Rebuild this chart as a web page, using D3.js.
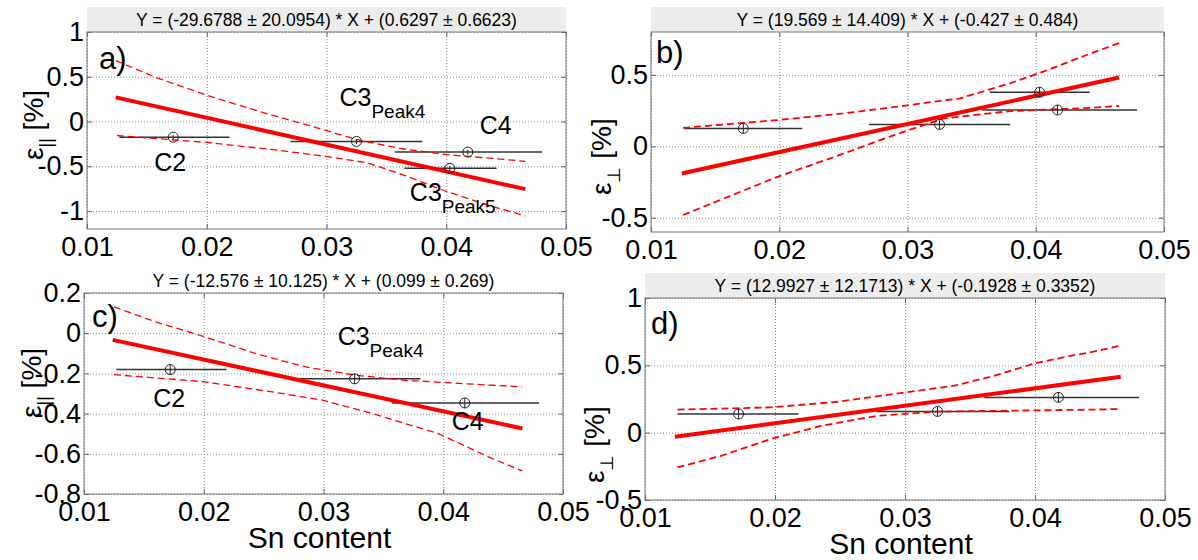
<!DOCTYPE html>
<html>
<head>
<meta charset="utf-8">
<script src="https://cdn.jsdelivr.net/npm/d3@7"></script>
<style>
  body { margin: 0; background: #fff; }
  text { font-family: "Liberation Sans", Arial, Helvetica, sans-serif; }
</style>
</head>
<body>
<div id="chart"></div>
<script>
// x axis (Sn content) ticks, shared by all panels
const xTicks = [0.01, 0.02, 0.03, 0.04, 0.05];

// panel a) eps_par vs Sn
const aNames = ["C2", "C3|Peak4", "C4", "C3|Peak5"];
const aSn = [0.0172, 0.0325, 0.0418, 0.0403];
const aSnLo = [0.0127, 0.0270, 0.0357, 0.0365];
const aSnHi = [0.0219, 0.0380, 0.0480, 0.0442];
const aEps = [-0.175, -0.222, -0.341, -0.522];
const aFitX = [0.0124, 0.0466];
const aFitY = [0.270, -0.755];
const aUpX = [0.0124, 0.0159, 0.0203, 0.0248, 0.0287, 0.0325, 0.0361, 0.0400, 0.0442, 0.0466];
const aUpY = [0.681, 0.485, 0.281, 0.096, -0.050, -0.200, -0.300, -0.370, -0.415, -0.445];
const aLoX = [0.0125, 0.0203, 0.0259, 0.0300, 0.0334, 0.0365, 0.0400, 0.0434, 0.0466];
const aLoY = [-0.156, -0.237, -0.320, -0.390, -0.460, -0.600, -0.780, -0.930, -1.055];
const aYTicks = [-1, -0.5, 0, 0.5, 1];

// panel b) eps_perp vs Sn
const bSn = [0.0172, 0.0325, 0.0403, 0.0417];
const bSnLo = [0.0126, 0.0270, 0.0364, 0.0358];
const bSnHi = [0.0218, 0.0380, 0.0442, 0.0479];
const bEps = [0.125, 0.153, 0.378, 0.254];
const bFitX = [0.0124, 0.0465];
const bFitY = [-0.190, 0.481];
const bUpX = [0.0125, 0.0198, 0.0250, 0.0302, 0.0341, 0.0380, 0.0406, 0.0445, 0.0465];
const bUpY = [0.129, 0.183, 0.230, 0.289, 0.336, 0.441, 0.523, 0.657, 0.723];
const bLoX = [0.0125, 0.0198, 0.0250, 0.0289, 0.0328, 0.0380, 0.0445, 0.0465];
const bLoY = [-0.481, -0.216, -0.052, 0.077, 0.195, 0.246, 0.270, 0.282];
const bYTicks = [-0.5, 0, 0.5];

// panel c) eps_par vs Sn (three samples)
const cNames = ["C2", "C3|Peak4", "C4"];
const cSn = [0.0172, 0.0326, 0.0418];
const cSnLo = [0.0127, 0.0279, 0.0357];
const cSnHi = [0.0219, 0.0381, 0.0480];
const cEps = [-0.181, -0.227, -0.347];
const cFitX = [0.0124, 0.0466];
const cFitY = [-0.033, -0.474];
const cUpX = [0.0125, 0.0160, 0.0201, 0.0243, 0.0285, 0.0327, 0.0368, 0.0441, 0.0466];
const cUpY = [0.131, 0.056, -0.018, -0.101, -0.168, -0.209, -0.234, -0.259, -0.267];
const cLoX = [0.0125, 0.0201, 0.0257, 0.0299, 0.0341, 0.0396, 0.0441, 0.0466];
const cLoY = [-0.206, -0.242, -0.292, -0.333, -0.400, -0.500, -0.624, -0.685];
const cYTicks = [-0.8, -0.6, -0.4, -0.2, 0, 0.2];

// panel d) eps_perp vs Sn (three samples)
const dSn = [0.0172, 0.0325, 0.0418];
const dSnLo = [0.0125, 0.0278, 0.0361];
const dSnHi = [0.0218, 0.0380, 0.0480];
const dEps = [0.139, 0.158, 0.262];
const dFitX = [0.0123, 0.0466];
const dFitY = [-0.030, 0.415];
const dUpX = [0.0125, 0.0197, 0.0249, 0.0300, 0.0338, 0.0369, 0.0400, 0.0428, 0.0445, 0.0466];
const dUpY = [0.171, 0.188, 0.230, 0.299, 0.349, 0.423, 0.515, 0.572, 0.601, 0.646];
const dLoX = [0.0125, 0.0159, 0.0197, 0.0236, 0.0279, 0.0325, 0.0377, 0.0445, 0.0466];
const dLoY = [-0.258, -0.171, -0.047, 0.052, 0.126, 0.156, 0.163, 0.171, 0.176];
const dYTicks = [-0.5, 0, 0.5, 1];

const zip = (xs, ys) => xs.map((x, i) => [x, ys[i]]);

const width = 1198, height = 560;
const svg = d3.select("#chart").append("svg")
    .attr("width", width)
    .attr("height", height);

const panels = [
  { tag: "a)", box: [87, 32, 566, 229], yDom: [-1.2, 1], yTicks: aYTicks,
    title: "Y = (-29.6788 \u00b1 20.0954) * X + (0.6297 \u00b1 0.6623)", band: true,
    sn: aSn, lo: aSnLo, hi: aSnHi, eps: aEps, names: aNames,
    fit: zip(aFitX, aFitY), up: zip(aUpX, aUpY), low: zip(aLoX, aLoY),
    sub: "||", ylab: [43, 160], tagPos: [99, 69], cross: 2.5, dashW: 1.3,
    labOff: [[-19, 34], [-17, -35], [12, -18], [-40, 33]], xlab: false },
  { tag: "b)", box: [651, 32, 1164, 232], yDom: [-0.6, 0.8], yTicks: bYTicks,
    title: "Y = (19.569 \u00b1 14.409) * X + (-0.427 \u00b1 0.484)", band: true,
    sn: bSn, lo: bSnLo, hi: bSnHi, eps: bEps, names: null,
    fit: zip(bFitX, bFitY), up: zip(bUpX, bUpY), low: zip(bLoX, bLoY),
    sub: "\u22a5", ylab: [611, 195], tagPos: [656, 63], cross: 5, dashW: 1.8,
    labOff: [], xlab: false },
  { tag: "c)", box: [84, 293, 563, 494], yDom: [-0.8, 0.2], yTicks: cYTicks,
    title: "Y = (-12.576 \u00b1 10.125) * X + (0.099 \u00b1 0.269)", band: false,
    sn: cSn, lo: cSnLo, hi: cSnHi, eps: cEps, names: cNames,
    fit: zip(cFitX, cFitY), up: zip(cUpX, cUpY), low: zip(cLoX, cLoY),
    sub: "||", ylab: [41, 418], tagPos: [92, 327], cross: 5, dashW: 1.3,
    labOff: [[-17, 37], [-17, -34], [-13, 27]], xlab: true },
  { tag: "d)", box: [645, 298, 1165, 500], yDom: [-0.5, 1], yTicks: dYTicks,
    title: "Y = (12.9927 \u00b1 12.1713) * X + (-0.1928 \u00b1 0.3352)", band: true,
    sn: dSn, lo: dSnLo, hi: dSnHi, eps: dEps, names: null,
    fit: zip(dFitX, dFitY), up: zip(dUpX, dUpY), low: zip(dLoX, dLoY),
    sub: "\u22a5", ylab: [604, 483], tagPos: [651, 334], cross: 5, dashW: 1.8,
    labOff: [], xlab: true }
];

const fmt = d => String(d);

panels.forEach(p => {
  const [x0, y0, x1, y1] = p.box;
  const x = d3.scaleLinear().domain([0.01, 0.05]).range([x0, x1]);
  const y = d3.scaleLinear().domain(p.yDom).range([y1, y0]);
  const g = svg.append("g");

  // title band
  if (p.band) {
    g.append("rect")
      .attr("x", x0).attr("y", y0 - 25)
      .attr("width", x1 - x0).attr("height", 25)
      .attr("fill", "#ececec");
  }
  g.append("text")
    .attr("x", (x0 + x1) / 2).attr("y", y0 - 12)
    .attr("dy", "0.35em")
    .attr("text-anchor", "middle")
    .attr("font-size", 17.5)
    .text(p.title);

  // dotted grid
  g.append("g")
    .attr("transform", `translate(0,${y1})`)
    .call(d3.axisBottom(x).tickValues(xTicks).tickSize(-(y1 - y0)).tickFormat(""))
    .call(s => s.select(".domain").remove())
    .call(s => s.selectAll("line").attr("stroke", "#8c8c8c").attr("stroke-dasharray", "1,2"));
  g.append("g")
    .attr("transform", `translate(${x0},0)`)
    .call(d3.axisLeft(y).tickValues(p.yTicks).tickSize(-(x1 - x0)).tickFormat(""))
    .call(s => s.select(".domain").remove())
    .call(s => s.selectAll("line").attr("stroke", "#8c8c8c").attr("stroke-dasharray", "1,2"));

  // axes with inward ticks
  const styleAxis = s => {
    s.select(".domain").remove();
    s.selectAll("line").attr("stroke", "#666");
    s.selectAll("text").attr("font-size", 27).attr("fill", "#000")
      .style("font-family", '"Liberation Sans", Arial, sans-serif');
  };
  g.append("g")
    .attr("transform", `translate(0,${y1})`)
    .call(d3.axisBottom(x).tickValues(xTicks).tickSize(-5).tickPadding(8).tickFormat(fmt))
    .call(styleAxis);
  g.append("g")
    .attr("transform", `translate(0,${y0})`)
    .call(d3.axisTop(x).tickValues(xTicks).tickSize(-5).tickFormat(""))
    .call(styleAxis);
  g.append("g")
    .attr("transform", `translate(${x0},0)`)
    .call(d3.axisLeft(y).tickValues(p.yTicks).tickSize(-5).tickPadding(3).tickFormat(fmt))
    .call(styleAxis);
  g.append("g")
    .attr("transform", `translate(${x1},0)`)
    .call(d3.axisRight(y).tickValues(p.yTicks).tickSize(-5).tickFormat(""))
    .call(styleAxis);
  g.selectAll(".tick text").attr("font-size", 27);

  g.append("rect")
    .attr("x", x0).attr("y", y0)
    .attr("width", x1 - x0).attr("height", y1 - y0)
    .attr("fill", "none").attr("stroke", "#777").attr("stroke-width", 1);

  // horizontal error bars
  g.selectAll(".err")
    .data(p.sn)
    .enter().append("line")
    .attr("x1", (d, i) => x(p.lo[i]))
    .attr("x2", (d, i) => x(p.hi[i]))
    .attr("y1", (d, i) => y(p.eps[i]))
    .attr("y2", (d, i) => y(p.eps[i]))
    .attr("stroke", "#333").attr("stroke-width", 1.5);

  // fit and confidence bounds
  const line = d3.line().x(d => x(d[0])).y(d => y(d[1]));
  g.append("path").attr("d", line(p.up))
    .attr("fill", "none").attr("stroke", "#f00")
    .attr("stroke-width", p.dashW).attr("stroke-dasharray", "7,4");
  g.append("path").attr("d", line(p.low))
    .attr("fill", "none").attr("stroke", "#f00")
    .attr("stroke-width", p.dashW).attr("stroke-dasharray", "7,4");
  g.append("path").attr("d", line(p.fit))
    .attr("fill", "none").attr("stroke", "#f00")
    .attr("stroke-width", 4);

  // markers
  const mk = g.selectAll(".mk")
    .data(p.sn)
    .enter().append("g")
    .attr("transform", (d, i) => `translate(${x(d)},${y(p.eps[i])})`);
  mk.append("circle").attr("r", 5)
    .attr("fill", "none").attr("stroke", "#222").attr("stroke-width", 1);
  mk.append("line")
    .attr("y1", -p.cross).attr("y2", p.cross)
    .attr("stroke", "#222").attr("stroke-width", 1);

  // sample labels
  if (p.names) {
    p.names.forEach((n, i) => {
      const [main, sub] = n.split("|");
      const t = g.append("text")
        .attr("x", x(p.sn[i]) + p.labOff[i][0])
        .attr("y", y(p.eps[i]) + p.labOff[i][1])
        .attr("font-size", 25);
      t.append("tspan").text(main);
      if (sub) t.append("tspan").attr("dy", 12).attr("font-size", 19).text(sub);
    });
  }

  // panel tag
  g.append("text")
    .attr("x", p.tagPos[0]).attr("y", p.tagPos[1])
    .attr("font-size", 31)
    .text(p.tag);

  // y label
  const yl = g.append("text")
    .attr("transform", `translate(${p.ylab[0]},${p.ylab[1]}) rotate(-90)`)
    .attr("font-size", 28);
  yl.append("tspan").text("\u03b5");
  yl.append("tspan").attr("dy", 9).attr("font-size", 18).text(p.sub);
  yl.append("tspan").attr("dy", -9).text(" [%]");

  // x label
  if (p.xlab) {
    g.append("text")
      .attr("x", (x0 + x1) / 2 - 4).attr("y", y1 + 54)
      .attr("text-anchor", "middle")
      .attr("font-size", 30)
      .text("Sn content");
  }
});
</script>
</body>
</html>
